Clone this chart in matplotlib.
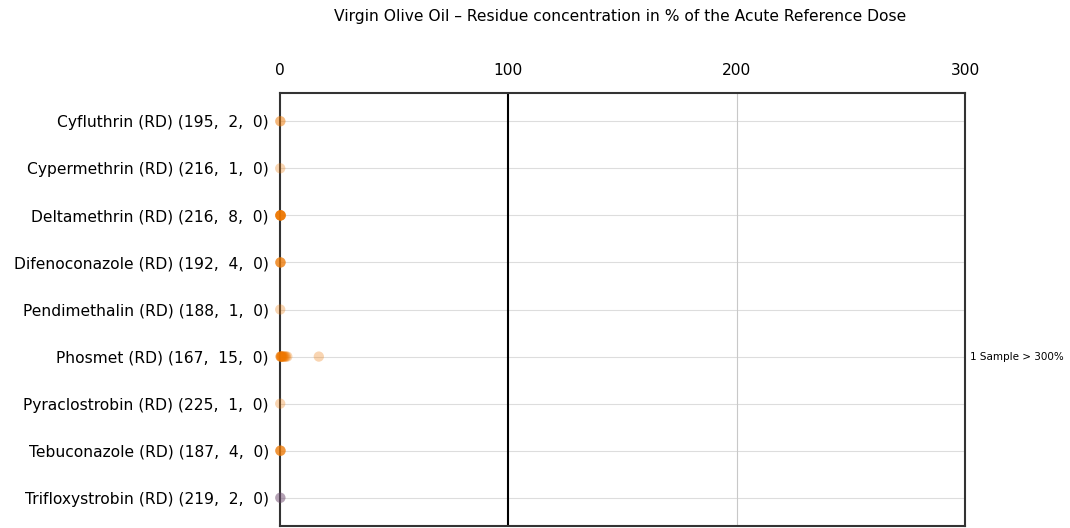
import matplotlib.pyplot as plt

substances = [
    'Cyfluthrin (RD) (195,  2,  0)',
    'Cypermethrin (RD) (216,  1,  0)',
    'Deltamethrin (RD) (216,  8,  0)',
    'Difenoconazole (RD) (192,  4,  0)',
    'Pendimethalin (RD) (188,  1,  0)',
    'Phosmet (RD) (167,  15,  0)',
    'Pyraclostrobin (RD) (225,  1,  0)',
    'Tebuconazole (RD) (187,  4,  0)',
    'Trifloxystrobin (RD) (219,  2,  0)',
]

# % of ARfD per positive sample (values above 300 not drawn)
values = [
    [0.1, 0.2],
    [0.1],
    [0.1, 0.1, 0.2, 0.2, 0.2, 0.3, 0.3, 0.4],
    [0.1, 0.2, 0.2, 0.3],
    [0.1],
    [0.2, 0.3, 0.4, 0.5, 0.6, 0.8, 1.0, 1.2, 1.5, 1.8, 2.2, 2.6, 3.2, 17.0, 450.0],
    [0.1],
    [0.1, 0.2, 0.2, 0.3],
    [0.1, 0.2],
]
colors = ['#ee7700'] * 8 + ['#6e4a6e']

fig = plt.figure(figsize=(10.7, 5.28), dpi=100)
ax = fig.add_axes([280 / 1070, 2 / 528, 685 / 1070, 433 / 528])

for i, (vals, c) in enumerate(zip(values, colors)):
    shown = [v for v in vals if v <= 300]
    n_over = len(vals) - len(shown)
    ax.scatter(shown, [i] * len(shown), s=55, color=c, alpha=0.3,
               edgecolors='none', zorder=3, clip_on=False)
    if n_over:
        ax.text(1.008, i, f'{n_over} Sample > 300%', transform=ax.get_yaxis_transform(),
                va='center', ha='left', fontsize=7.5)

ax.set_xlim(0, 300)
ax.set_ylim(len(substances) - 0.4, -0.6)
ax.set_yticks(range(len(substances)))
ax.set_yticklabels(substances, fontsize=11.2)
ax.set_xticks([0, 100, 200, 300])
ax.xaxis.tick_top()
ax.tick_params(axis='x', length=0, pad=11, labelsize=11.2)
ax.tick_params(axis='y', length=0, pad=8)

for i in range(len(substances)):
    ax.axhline(i, color='#dddddd', lw=0.8, zorder=1)
ax.axvline(200, color='#c8c8c8', lw=0.8, zorder=1)
ax.axvline(100, color='black', lw=1.5, zorder=2)

for s in ax.spines.values():
    s.set_color('#333333')
    s.set_linewidth(1.5)

fig.text(620 / 1070, 1 - 17 / 528, 'Virgin Olive Oil – Residue concentration in % of the Acute Reference Dose',
         ha='center', va='center', fontsize=11.2)

plt.savefig('out.png')
